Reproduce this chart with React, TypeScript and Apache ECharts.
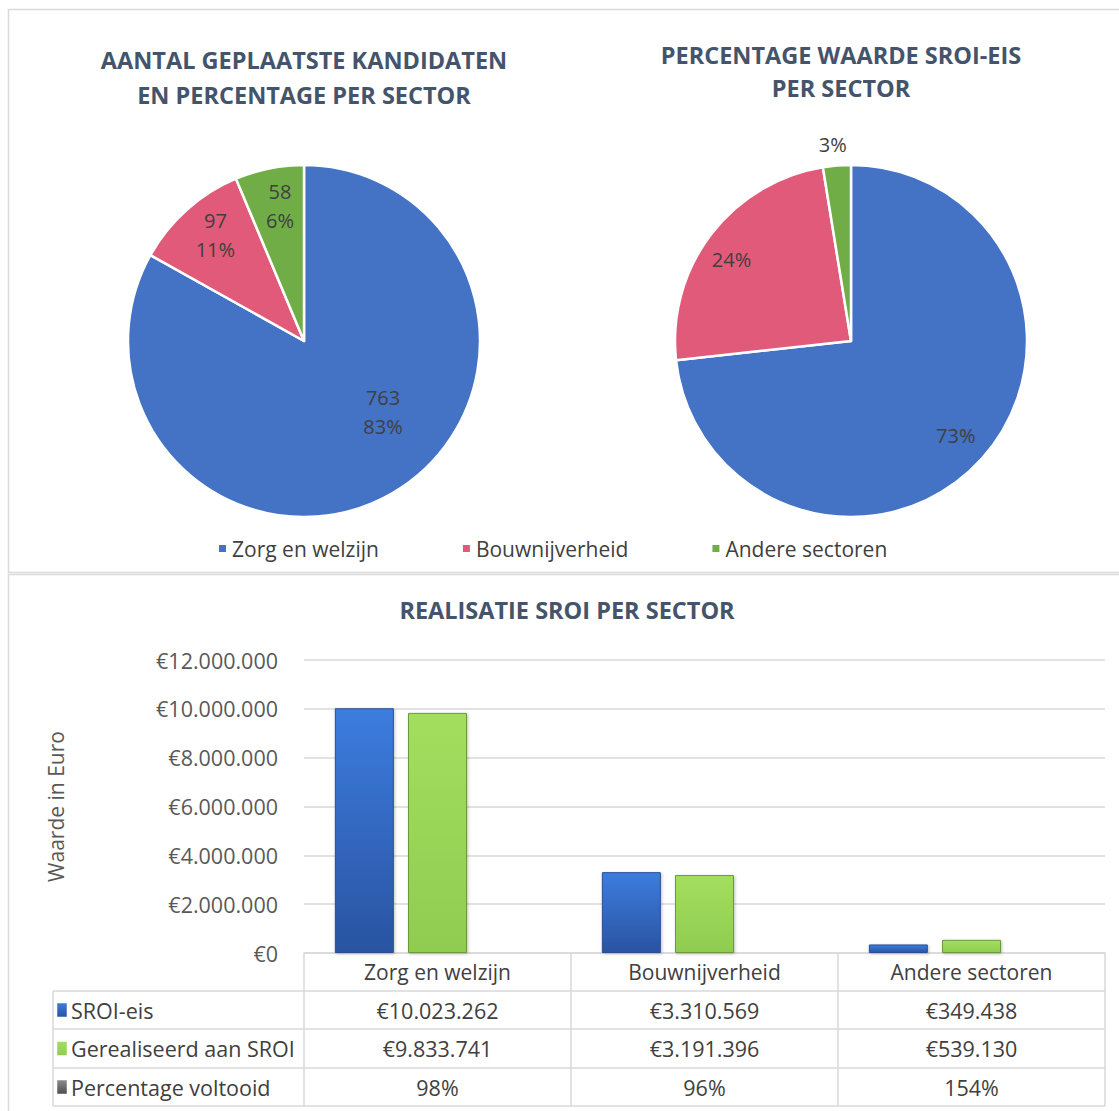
import React, { useEffect, useRef } from "react";
import * as echarts from "echarts";

const sectors = ["Zorg en welzijn", "Bouwnijverheid", "Andere sectoren"];
const kandidaten = [763, 97, 58];
const sroiEis = [10023262, 3310569, 349438];
const gerealiseerd = [9833741, 3191396, 539130];
const percentageVoltooid = [0.98, 0.96, 1.54];
const tableRowNames = ["SROI-eis", "Gerealiseerd aan SROI", "Percentage voltooid"];
const pieColors = ["#4472C4", "#E15A7A", "#70AD47"];
const pieTitle1 = "AANTAL GEPLAATSTE KANDIDATEN\nEN PERCENTAGE PER SECTOR";
const pieTitle2 = "PERCENTAGE WAARDE SROI-EIS\nPER SECTOR";
const barTitle = "REALISATIE SROI PER SECTOR";
const yAxisName = "Waarde in Euro";

const FONT = "'Open Sans', 'Noto Sans', sans-serif";
const TEXT = "#404040";
const TITLE = "#44546A";
const LINE = "#D9D9D9";

function euro(v: number): string {
  return "€" + String(Math.round(v)).replace(/\B(?=(\d{3})+(?!\d))/g, ".");
}
function pct(v: number): string {
  return Math.round(v * 100) + "%";
}

const GRID_LEFT = 304;
const GRID_RIGHT_X = 1105;
const GRID_TOP = 660;
const GRID_BOTTOM_Y = 953;
const TABLE_LEFT = 53;
const ROW_LINES = [991, 1029, 1068, 1106];

const blueGrad = () =>
  new echarts.graphic.LinearGradient(0, 0, 0, 1, [
    { offset: 0, color: "#3C7DDE" },
    { offset: 1, color: "#2A53A2" },
  ]);
const greenGrad = () =>
  new echarts.graphic.LinearGradient(0, 0, 0, 1, [
    { offset: 0, color: "#A3DE5E" },
    { offset: 1, color: "#8FCC50" },
  ]);
const greyGrad = () =>
  new echarts.graphic.LinearGradient(0, 0, 0, 1, [
    { offset: 0, color: "#8C8C8C" },
    { offset: 1, color: "#4D4D4D" },
  ]);

const pie1Offsets = [
  [33, -7],
  [-28, -38],
  [-6, -46],
];
const pie2Offsets = [
  [37, 34],
  [-47, -26],
  [-11, -106],
];

export default function App() {
  const ref = useRef<HTMLDivElement>(null);
  useEffect(() => {
    if (!ref.current) return;
    const chart = echarts.init(ref.current, undefined, { renderer: "svg" });
    const colW = (GRID_RIGHT_X - GRID_LEFT) / sectors.length;
    const rowVals = [sroiEis.map(euro), gerealiseerd.map(euro), percentageVoltooid.map(pct)];
    const rowGrads = [blueGrad, greenGrad, greyGrad];
    const titleStyle = {
      align: "center",
      verticalAlign: "middle",
      fontSize: 23.5,
      fontWeight: "bold",
      fontFamily: FONT,
      fill: TITLE,
    };
    const graphics: any[] = [
      {
        type: "rect",
        silent: true,
        shape: { x: 8.5, y: 9.5, width: 1130, height: 563 },
        style: { fill: "none", stroke: LINE, lineWidth: 1.5 },
      },
      {
        type: "rect",
        silent: true,
        shape: { x: 8.5, y: 574.5, width: 1130, height: 560 },
        style: { fill: "none", stroke: LINE, lineWidth: 1.5 },
      },
      {
        type: "text",
        x: 304,
        y: 77,
        style: { ...titleStyle, text: pieTitle1, lineHeight: 35 },
      },
      {
        type: "text",
        x: 841,
        y: 71,
        style: { ...titleStyle, text: pieTitle2, lineHeight: 33 },
      },
      {
        type: "text",
        x: 567,
        y: 610,
        style: { ...titleStyle, text: barTitle },
      },
      {
        type: "line",
        silent: true,
        shape: { x1: TABLE_LEFT, y1: ROW_LINES[0], x2: TABLE_LEFT, y2: ROW_LINES[ROW_LINES.length - 1] },
        style: { stroke: LINE, lineWidth: 1.5 },
      },
    ];
    ROW_LINES.forEach((y) => {
      graphics.push({
        type: "line",
        silent: true,
        shape: { x1: TABLE_LEFT, y1: y, x2: GRID_RIGHT_X, y2: y },
        style: { stroke: LINE, lineWidth: 1.5 },
      });
    });
    tableRowNames.forEach((name, r) => {
      const yc = (ROW_LINES[r] + ROW_LINES[r + 1]) / 2;
      graphics.push({
        type: "rect",
        silent: true,
        shape: { x: 57, y: yc - 7, width: 10, height: 14 },
        style: { fill: rowGrads[r](), stroke: "#ffffff", lineWidth: 0.5 },
      });
      graphics.push({
        type: "text",
        x: 71,
        y: yc,
        style: {
          text: name,
          align: "left",
          verticalAlign: "middle",
          fontSize: 21.5,
          fontFamily: FONT,
          fill: TEXT,
        },
      });
      rowVals[r].forEach((v, c) => {
        graphics.push({
          type: "text",
          x: GRID_LEFT + colW * (c + 0.5),
          y: yc,
          style: {
            text: v,
            align: "center",
            verticalAlign: "middle",
            fontSize: 21.5,
            fontFamily: FONT,
            fill: TEXT,
          },
        });
      });
    });

    const pieLabel = {
      show: true,
      position: "inside",
      fontSize: 20,
      fontFamily: FONT,
      color: TEXT,
      lineHeight: 29,
    };

    chart.setOption({
      animation: false,
      backgroundColor: "#ffffff",
      textStyle: { fontFamily: FONT },
      legend: {
        data: sectors,
        left: 212,
        top: 533,
        icon: "rect",
        itemWidth: 9,
        itemHeight: 9,
        itemGap: 82,
        selectedMode: false,
        textStyle: { fontSize: 21, color: TEXT, fontFamily: FONT },
      },
      grid: {
        left: GRID_LEFT,
        right: 1119 - GRID_RIGHT_X,
        top: GRID_TOP,
        bottom: 1111 - GRID_BOTTOM_Y,
        containLabel: false,
      },
      xAxis: {
        type: "category",
        data: sectors,
        axisLine: { show: true, lineStyle: { color: LINE, width: 1.5 } },
        axisTick: {
          show: true,
          alignWithLabel: false,
          length: ROW_LINES[ROW_LINES.length - 1] - GRID_BOTTOM_Y,
          lineStyle: { color: LINE, width: 1.5 },
        },
        axisLabel: { fontSize: 21, color: TEXT, margin: 8, fontFamily: FONT },
      },
      yAxis: {
        type: "value",
        min: 0,
        max: 12000000,
        interval: 2000000,
        name: yAxisName,
        nameLocation: "middle",
        nameGap: 238,
        nameTextStyle: { fontSize: 21, color: "#595959", fontFamily: FONT },
        axisLine: { show: false },
        axisTick: { show: false },
        axisLabel: {
          fontSize: 21.5,
          color: "#595959",
          margin: 26,
          fontFamily: FONT,
          formatter: (v: number) => euro(v),
        },
        splitLine: { lineStyle: { color: LINE, width: 1.5 } },
      },
      series: [
        {
          type: "pie",
          name: "Kandidaten",
          center: [304, 341],
          radius: [0, 176],
          startAngle: 90,
          clockwise: true,
          percentPrecision: 0,
          itemStyle: { borderColor: "#ffffff", borderWidth: 2.5 },
          label: { ...pieLabel, formatter: "{c}\n{d}%" },
          labelLine: { show: false },
          labelLayout: (p: any) => ({ dx: pie1Offsets[p.dataIndex][0], dy: pie1Offsets[p.dataIndex][1] }),
          emphasis: { disabled: true },
          data: sectors.map((s, i) => ({ name: s, value: kandidaten[i], itemStyle: { color: pieColors[i] } })),
        },
        {
          type: "pie",
          name: "SROI-eis aandeel",
          center: [851, 341],
          radius: [0, 176],
          startAngle: 90,
          clockwise: true,
          percentPrecision: 0,
          itemStyle: { borderColor: "#ffffff", borderWidth: 2.5 },
          label: { ...pieLabel, formatter: "{d}%" },
          labelLine: { show: false },
          labelLayout: (p: any) => ({ dx: pie2Offsets[p.dataIndex][0], dy: pie2Offsets[p.dataIndex][1] }),
          emphasis: { disabled: true },
          data: sectors.map((s, i) => ({ name: s, value: sroiEis[i], itemStyle: { color: pieColors[i] } })),
        },
        {
          type: "bar",
          name: tableRowNames[0],
          data: sroiEis,
          barWidth: 59,
          barGap: "24%",
          itemStyle: {
            color: blueGrad(),
            borderColor: "#2A4E94",
            borderWidth: 1,
            shadowBlur: 3,
            shadowColor: "rgba(0,0,0,0.25)",
            shadowOffsetX: 1,
            shadowOffsetY: 1,
          },
          emphasis: { disabled: true },
        },
        {
          type: "bar",
          name: tableRowNames[1],
          data: gerealiseerd,
          barWidth: 59,
          barGap: "24%",
          itemStyle: {
            color: greenGrad(),
            borderColor: "#6B9A3C",
            borderWidth: 1,
            shadowBlur: 3,
            shadowColor: "rgba(0,0,0,0.25)",
            shadowOffsetX: 1,
            shadowOffsetY: 1,
          },
          emphasis: { disabled: true },
        },
        {
          type: "bar",
          name: tableRowNames[2],
          data: percentageVoltooid,
          barWidth: 59,
          barGap: "24%",
          itemStyle: { color: greyGrad() },
          emphasis: { disabled: true },
        },
      ],
      graphic: graphics,
    });
    return () => chart.dispose();
  }, []);
  return (
    <div
      ref={ref}
      style={{ position: "absolute", left: 0, top: 0, width: 1119, height: 1111, background: "#fff" }}
    />
  );
}
